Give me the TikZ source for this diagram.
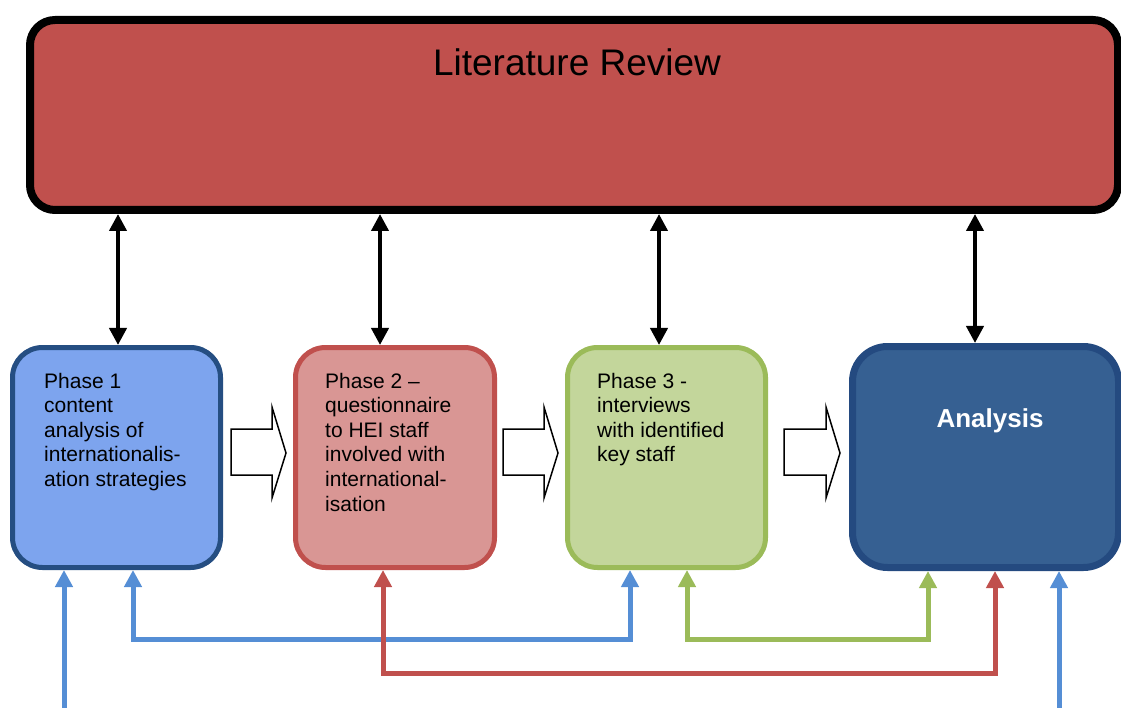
\documentclass[tikz,border=0pt]{standalone}
\usepackage{fontspec}
\setmainfont{Liberation Sans}
\usetikzlibrary{arrows.meta}
\definecolor{litred}{HTML}{C0504D}
\definecolor{litshadow}{HTML}{B88E8E}
\definecolor{ponefill}{HTML}{7DA4EE}
\definecolor{ponedraw}{HTML}{254E82}
\definecolor{ptwofill}{HTML}{D99694}
\definecolor{ptwodraw}{HTML}{C0504D}
\definecolor{pthreefill}{HTML}{C3D69B}
\definecolor{pthreedraw}{HTML}{9BBB59}
\definecolor{anfill}{HTML}{366092}
\definecolor{andraw}{HTML}{244A80}
\definecolor{bluel}{HTML}{558ED5}
\definecolor{greenl}{HTML}{9BBB59}
\definecolor{redl}{HTML}{C0504D}
\tikzset{
  phasebox/.style={rectangle, rounded corners=30pt, line width=5pt},
  phasetxt/.style={anchor=base west, inner sep=0pt, align=left,
    font=\fontsize{21}{24.6}\selectfont},
  dblblack/.style={line width=4pt, black,
    {Triangle[width=17pt,length=17pt]}-{Triangle[width=17pt,length=17pt]}},
  feedback/.style={line width=5pt, line join=miter,
    {Triangle[width=17pt,length=17pt]}-{Triangle[width=17pt,length=17pt]}},
  inbound/.style={line width=5pt,
    -{Triangle[width=17pt,length=17pt]}},
  blockarrow/.style={draw=black, fill=white, line width=1.5pt, line join=miter}
}
\begin{document}
\begin{tikzpicture}[x=1pt,y=-1pt]
\useasboundingbox (0,0) rectangle (1121,708);
\clip (0,0) rectangle (1121,708);

% Literature review
\node[rectangle, rounded corners=25pt, fill=litshadow, minimum width=1088pt, minimum height=190pt, inner sep=0pt] (litsh) at (576,118) {};
\node[rectangle, rounded corners=25pt, fill=litred, draw=black, line width=8pt, minimum width=1088pt, minimum height=190pt, inner sep=0pt] (lit) at (574,115) {};
\node[anchor=base, inner sep=0pt, font=\fontsize{37}{44}\selectfont] (littxt) at (577,76) {Literature Review};

% Phase boxes
\node[phasebox, fill=ponefill, draw=ponedraw, minimum width=208pt, minimum height=220pt] (p1) at (116.5,457.5) {};
\node[phasebox, fill=ptwofill, draw=ptwodraw, minimum width=199pt, minimum height=220pt] (p2) at (395,457.5) {};
\node[phasebox, fill=pthreefill, draw=pthreedraw, minimum width=198pt, minimum height=220pt] (p3) at (666.5,457.5) {};
\node[rectangle, rounded corners=35pt, fill=anfill, draw=andraw, line width=7pt, minimum width=266pt, minimum height=221pt] (an) at (985.5,457) {};

% text: anchor is the baseline of the last line
\node[phasetxt] (t1) at (44,486.4) {Phase 1\\content\\analysis of\\internationalis-\\ation strategies};
\node[phasetxt] (t2) at (325,511) {Phase 2 --\\questionnaire\\to HEI staff\\involved with\\international-\\isation};
\node[phasetxt] (t3) at (597,461.8) {Phase 3 -\\interviews\\with identified\\key staff};
\node[anchor=base, inner sep=0pt, text=white, font=\fontsize{26}{30}\bfseries\selectfont] (antxt) at (990,427) {Analysis};

% double arrows to literature review
\draw[dblblack] (118,0 |- lit.south) -- (118,0 |- p1.north);
\draw[dblblack] (380,0 |- lit.south) -- (380,0 |- p2.north);
\draw[dblblack] (659,0 |- lit.south) -- (659,0 |- p3.north);
\draw[dblblack] (975,0 |- lit.south) -- (975,0 |- an.north);

% block arrows
\draw[blockarrow] (231,429) -- (272,429) -- (272,407) -- (286,453) -- (272,498) -- (272,475) -- (231,475) -- cycle;
\draw[blockarrow] (503,429) -- (544,429) -- (544,407) -- (558,453) -- (544,498) -- (544,475) -- (503,475) -- cycle;
\draw[blockarrow] (784,429) -- (826,429) -- (826,407) -- (840,453) -- (826,498) -- (826,475) -- (784,475) -- cycle;

% feedback connectors
\coordinate (inL) at (64,712);
\coordinate (inR) at (1059,712);
\draw[inbound, bluel] (inL) -- (inL |- p1.south);
\draw[inbound, bluel] (inR) -- (inR |- an.south);
\draw[feedback, bluel] (133,0 |- p1.south) -- (133,639) -- (630,639) -- (630,0 |- p3.south);
\draw[feedback, greenl] (687,0 |- p3.south) -- (687,639) -- (928,639) -- (928,0 |- an.south);
\draw[feedback, redl] (383,0 |- p2.south) -- (383,673) -- (995,673) -- (995,0 |- an.south);
\end{tikzpicture}
\end{document}
